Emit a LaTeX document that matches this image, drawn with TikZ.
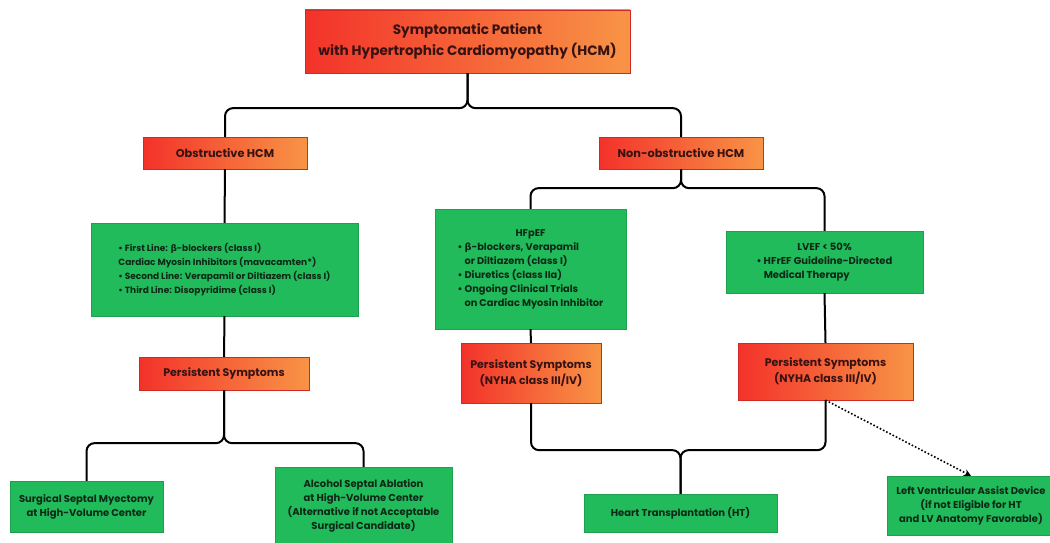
\documentclass[tikz,border=0pt]{standalone}
\usepackage{fontspec}
\setmainfont{Poppins}
\newfontfamily\grk{DejaVu Sans}
\usepackage{xcolor}
\usepackage{tikz}
\usetikzlibrary{arrows.meta}
\definecolor{hcmred}{RGB}{243,50,42}
\definecolor{hcmorange}{RGB}{248,148,70}
\definecolor{hcmgreen}{RGB}{34,187,92}
\definecolor{redtext}{RGB}{55,18,18}
\definecolor{greentext}{RGB}{12,40,22}
\newcommand{\ind}{\hphantom{\textbullet\ }}

\begin{document}
\begin{tikzpicture}[x=1pt, y=-1pt,
  every node/.style={font=\bfseries, inner sep=0pt},
  redbox/.style={left color=hcmred, right color=hcmorange, draw=hcmred!85!black, line width=0.3pt, text=redtext, align=center},
  greenbox/.style={fill=hcmgreen, draw=hcmgreen!85!black, line width=0.3pt, text=greentext, align=center},
  conn/.style={line width=2pt, rounded corners=8pt},
  dotarrow/.style={line width=1.6pt, dotted, -{Stealth[length=7pt,width=7pt]}}]
\useasboundingbox (0,0) rectangle (1050,543);
% Top
\node[redbox, minimum width=325pt, minimum height=63pt, font=\bfseries\fontsize{13.6}{21}\selectfont] (patient) at (467.5,41.5)
  {Symptomatic Patient\\with Hypertrophic Cardiomyopathy (HCM)};
% Two types
\node[redbox, minimum width=164pt, minimum height=32pt, font=\bfseries\fontsize{11.3}{12}\selectfont] (obs) at (225,153) {Obstructive HCM};
\node[redbox, minimum width=164pt, minimum height=32pt, font=\bfseries\fontsize{11.3}{12}\selectfont] (nonobs) at (681,153) {Non-obstructive HCM};
% Medical therapy
\node[greenbox, minimum width=267pt, minimum height=93pt, font=\bfseries\fontsize{9}{14}\selectfont] (obsmed) at (224.5,269.5)
  {\begin{tabular}{@{}l@{}}
  \textbullet\ First Line: {\grk β}-blockers (class I)\\
  Cardiac Myosin Inhibitors (mavacamten*)\\
  \textbullet\ Second Line: Verapamil or Diltiazem (class I)\\
  \textbullet\ Third Line: Disopyridime (class I)
  \end{tabular}};
\node[greenbox, minimum width=191pt, minimum height=120pt, font=\bfseries\fontsize{9.8}{14}\selectfont] (hfpef) at (530.5,269)
  {\begin{tabular}{@{}l@{}}
  \multicolumn{1}{c}{HFpEF}\\
  \textbullet\ {\grk β}-blockers, Verapamil\\
  \ind or Diltiazem (class I)\\
  \textbullet\ Diuretics (class IIa)\\
  \textbullet\ Ongoing Clinical Trials\\
  \ind on Cardiac Myosin Inhibitor
  \end{tabular}};
\node[greenbox, minimum width=197pt, minimum height=62pt, font=\bfseries\fontsize{10}{14}\selectfont] (lvef) at (824.5,262)
  {\begin{tabular}{@{}l@{}}
  \multicolumn{1}{c}{LVEF < 50\%}\\
  \textbullet\ HFrEF Guideline-Directed\\
  \ind Medical Therapy
  \end{tabular}};
% Persistent symptoms
\node[redbox, minimum width=170pt, minimum height=33pt, font=\bfseries\fontsize{11}{16}\selectfont] (pers1) at (224,373.5) {Persistent Symptoms};
\node[redbox, minimum width=140pt, minimum height=60pt, font=\bfseries\fontsize{11}{16}\selectfont] (pers2) at (531,373) {Persistent Symptoms\\(NYHA class III/IV)};
\node[redbox, minimum width=175pt, minimum height=57pt, font=\bfseries\fontsize{11}{16}\selectfont] (pers3) at (825.5,371.5) {Persistent Symptoms\\(NYHA class III/IV)};
% Invasive options
\node[greenbox, minimum width=153pt, minimum height=51pt, font=\bfseries\fontsize{10}{14}\selectfont] (myect) at (86.5,506.5) {Surgical Septal Myectomy\\at High-Volume Center};
\node[greenbox, minimum width=177pt, minimum height=78pt, font=\bfseries\fontsize{10}{14}\selectfont] (ablat) at (363.5,506) {Alcohol Septal Ablation\\at High-Volume Center\\(Alternative if not Acceptable\\Surgical Candidate)};
\node[greenbox, minimum width=193pt, minimum height=38pt, font=\bfseries\fontsize{10}{14}\selectfont] (transpl) at (680.5,513) {Heart Transplantation (HT)};
\node[greenbox, minimum width=168pt, minimum height=59pt, font=\bfseries\fontsize{10}{14}\selectfont] (lvad) at (971,505.5) {Left Ventricular Assist Device\\(if not Eligible for HT\\and LV Anatomy Favorable)};
% Connectors
\draw[conn] (patient.south) -- ++(0,35) -| (obs.north);
\draw[conn] (patient.south) -- ++(0,35) -| (nonobs.north);
\draw[conn] (obs.south) -- (obsmed.north);
\draw[conn] (obsmed.south) -- (pers1.north);
\draw[conn] (nonobs.south) -- ++(0,19) -| (hfpef.north);
\draw[conn] (nonobs.south) -- ++(0,19) -| (lvef.north);
\draw[conn] (hfpef.south) -- (pers2.north);
\draw[conn] (lvef.south) -- (pers3.north);
\draw[conn] (pers1.south) -- ++(0,53) -| (myect.north);
\draw[conn] (pers1.south) -- ++(0,53) -| (ablat.north);
\draw[conn] (pers2.south) -- ++(0,47) -| (transpl.north);
\draw[conn] (pers3.south) -- ++(0,50) -| (transpl.north);
\draw[dotarrow] (pers3.south) -- (lvad.north);
\end{tikzpicture}
\end{document}
